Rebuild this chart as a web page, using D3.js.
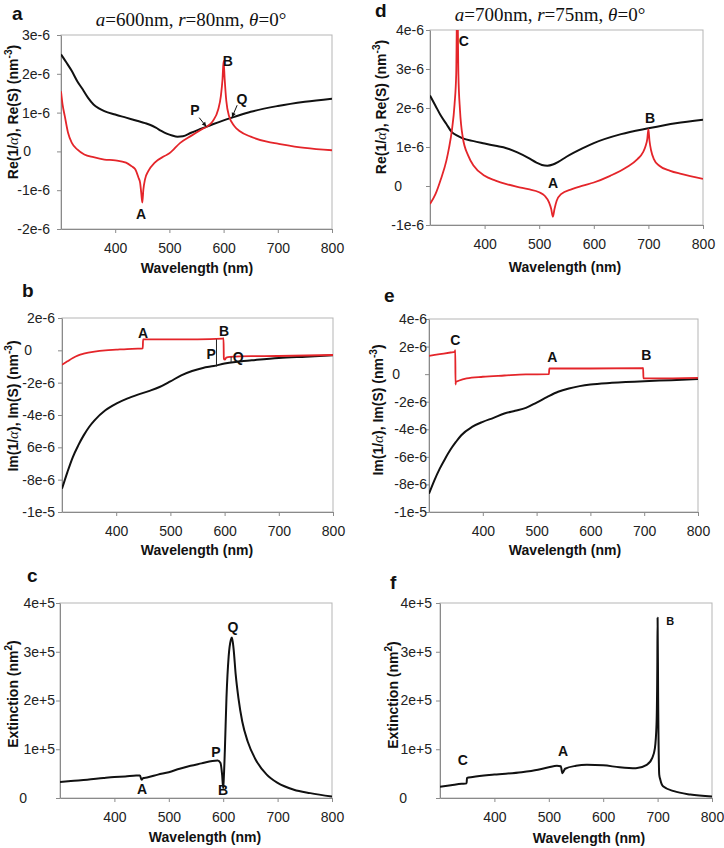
<!DOCTYPE html>
<html><head><meta charset="utf-8">
<script src="https://cdn.jsdelivr.net/npm/d3@7"></script>
<style>body{margin:0;background:#fff}svg{display:block}</style>
</head><body>
<svg id="fig" width="724" height="848"></svg>
<script>
// ---------------- DATA (values in units of 1e-6 nm^-3, extinction in 1e5 nm^2) ----------------
const xTicks = [400, 500, 600, 700, 800];

// Panel a : a=600nm, r=80nm
const aBlackX = [300,310,320,330,340,350,360,370,380,400,420,440,455,465,475,485,495,505,515,525,540,560,580,600,620,650,700,750,800];
const aBlackY = [2.5,2.29,2.07,1.81,1.6,1.38,1.21,1.11,1.04,0.95,0.87,0.79,0.73,0.68,0.61,0.53,0.46,0.41,0.38,0.39,0.48,0.59,0.70,0.80,0.89,1.02,1.17,1.28,1.36];
const aRedX = [300,303,307,313,320,330,343,360,380,400,420,430,437,443,446,448,450,452,455,461,473,491,500,520,540,560,570,580,590,595,598,600,602,605,610,620,630,650,680,700,750,800];
const aRedY = [1.55,1.2,0.91,0.48,0.22,0.05,-0.08,-0.15,-0.21,-0.23,-0.29,-0.38,-0.46,-0.68,-0.81,-1.06,-1.32,-0.98,-0.72,-0.51,-0.29,-0.12,-0.05,0.22,0.40,0.57,0.65,0.78,1.08,1.43,1.86,2.33,1.86,1.30,0.91,0.65,0.52,0.38,0.25,0.20,0.09,0.03];
const aTicksY = [-2,-1,0,1,2,3];
const aTickLabels = ["-2e-6","-1e-6","0","1e-6","2e-6","3e-6"];

// Panel d : a=700nm, r=75nm
const dBlackX = [300,310,320,330,340,350,360,380,400,420,440,460,480,495,505,515,525,535,550,580,600,650,700,750,800];
const dBlackY = [2.32,2.06,1.80,1.59,1.38,1.29,1.22,1.15,1.09,1.03,0.97,0.86,0.72,0.60,0.54,0.52,0.55,0.62,0.75,0.97,1.10,1.33,1.48,1.61,1.70];
const dRedX = [300,310,320,330,335,340,345,348,350,352,355,360,370,380,400,420,440,460,480,500,510,518,522,525,528,532,540,560,580,600,630,660,680,690,695,698,700,702,705,710,720,740,760,800];
const dRedY = [-0.46,-0.21,0.18,0.65,0.99,1.42,2.10,2.87,5.0,2.87,1.93,1.25,0.78,0.52,0.26,0.14,0.05,-0.02,-0.08,-0.16,-0.25,-0.42,-0.59,-0.79,-0.59,-0.38,-0.21,-0.08,0.01,0.09,0.26,0.48,0.69,0.86,1.03,1.21,1.46,1.16,0.91,0.69,0.52,0.39,0.31,0.18];
const dTicksY = [-1,0,1,2,3,4];
const dTickLabels = ["-1e-6","0","1e-6","2e-6","3e-6","4e-6"];

// Panel b : Im parts, a=600nm
const bBlackX = [300,310,320,330,340,350,360,380,400,420,440,460,480,500,520,540,560,580,600,620,650,700,750,800];
const bBlackY = [-8.56,-7.53,-6.60,-5.88,-5.26,-4.74,-4.33,-3.71,-3.30,-2.99,-2.74,-2.52,-2.27,-1.92,-1.55,-1.28,-1.09,-0.97,-0.82,-0.72,-0.62,-0.47,-0.39,-0.31];
const bRedX = [300,310,320,330,340,360,380,400,420,440,449,449.6,500,550,596,598,598.6,600.5,603,610,650,700,800];
const bRedY = [-0.89,-0.68,-0.47,-0.31,-0.21,-0.08,0,0.04,0.08,0.10,0.12,0.68,0.68,0.68,0.72,0.76,-0.52,-0.58,-0.45,-0.40,-0.36,-0.35,-0.29];
const bTicksY = [-10,-8,-6,-4,-2,0,2];
const bTickLabels = ["-1e-5","-8e-6","6e-6","-4e-6","-2e-6","0","2e-6"];
const bMarkX = [585, 612];       // P, Q difference markers
const bMarkTop = [0.68, -0.40];
const bMarkBot = [-1.0, -0.75];

// Panel e : Im parts, a=700nm
const eBlackX = [300,310,320,330,340,350,360,380,400,420,440,460,480,500,520,540,560,580,600,640,700,750,800];
const eBlackY = [-8.67,-7.70,-6.85,-6.13,-5.47,-4.92,-4.43,-3.83,-3.46,-3.17,-2.86,-2.66,-2.45,-2.06,-1.65,-1.28,-1.04,-0.87,-0.75,-0.63,-0.51,-0.44,-0.36];
const eRedX = [300,320,340,348,348.8,349.3,350,355,370,400,440,480,523,523.6,525,600,697,698,698.6,700,720,800];
const eRedY = [1.33,1.45,1.57,1.62,1.74,-0.75,-0.56,-0.48,-0.31,-0.19,-0.10,-0.02,0.0,0.41,0.41,0.41,0.44,0.46,-0.31,-0.31,-0.31,-0.27];
const eTicksY = [-10,-8,-6,-4,-2,0,2,4];
const eTickLabels = ["-1e-5","-8e-6","-6e-6","-4e-6","-2e-6","0","2e-6","4e-6"];

// Panel c : Extinction, a=600nm
const cX = [300,320,350,380,400,420,440,447,450,453,460,480,500,520,540,560,580,590,595,598,600,601,603,606,610,614,616,619,623,628,635,645,660,680,700,730,760,800];
const cY = [0.33,0.35,0.375,0.41,0.43,0.44,0.46,0.46,0.375,0.41,0.42,0.48,0.53,0.60,0.66,0.71,0.76,0.77,0.72,0.48,0.20,0.38,0.96,2.05,2.90,3.24,3.29,3.07,2.53,2.05,1.57,1.16,0.78,0.48,0.31,0.17,0.10,0.03];
const extTicksY = [0,1,2,3,4];
const extTickLabels = ["0","1e+5","2e+5","3e+5","4e+5"];

// Panel f : Extinction, a=700nm
const fX = [300,320,340,349,349.5,360,400,450,480,500,515,522,525,530,550,570,600,630,660,680,690,695,698,699.5,700,701,703,705,710,730,760,800];
const fY = [0.23,0.26,0.29,0.30,0.41,0.43,0.48,0.53,0.58,0.63,0.66,0.65,0.51,0.60,0.66,0.68,0.67,0.63,0.61,0.68,0.82,1.02,1.50,2.73,3.70,2.05,0.48,0.375,0.24,0.14,0.07,0.03];

// ---------------- DRAWING ----------------
const svg = d3.select("#fig");
const SANS = "'Liberation Sans', Arial, Helvetica, sans-serif";
const SERIF = "'Liberation Serif', 'Times New Roman', serif";
const RED = "#e4252a", BLACK = "#111";
const defs = svg.append("defs");
let clipId = 0;

function panel(c) {
  const x = d3.scaleLinear().domain([300, 800]).range([c.left, c.right]);
  const y = d3.scaleLinear().domain(c.yDomain).range([c.bottom, c.top]);
  const g = svg.append("g");
  const id = "clip" + (clipId++);
  defs.append("clipPath").attr("id", id).append("rect")
    .attr("x", c.left).attr("y", c.top).attr("width", c.right - c.left).attr("height", c.bottom - c.top);

  // frame
  g.append("rect").attr("x", c.left).attr("y", c.top).attr("width", c.right - c.left).attr("height", c.bottom - c.top)
    .attr("fill", "none").attr("stroke", "#b5b5b5").attr("stroke-width", 1);

  // x axis
  const xa = g.append("g").attr("transform", `translate(0,${c.bottom})`)
    .call(d3.axisBottom(x).tickValues(xTicks).tickSize(4).tickPadding(10).tickSizeOuter(0));
  xa.select(".domain").attr("stroke", "#8a8a8a");
  xa.selectAll(".tick line").attr("stroke", "#8a8a8a");
  xa.selectAll(".tick text").attr("font-family", SANS).attr("font-size", 14).attr("fill", "#222");

  // y axis
  const ya = g.append("g").attr("transform", `translate(${c.left},0)`)
    .call(d3.axisLeft(y).tickValues(c.yTicks).tickSize(4).tickSizeOuter(0)
      .tickFormat((d, i) => c.yLabels[i]));
  ya.select(".domain").attr("stroke", "#8a8a8a");
  ya.selectAll(".tick line").attr("stroke", "#8a8a8a");
  ya.selectAll(".tick text").attr("font-family", SANS).attr("font-size", 14).attr("fill", "#222")
    .attr("x", -(c.left - c.labelRight))
    .attr("dx", d => d === 0 ? c.zeroDx : 0);

  // lines
  const line = d3.line().x(d => x(d[0])).y(d => y(d[1])).curve(d3.curveMonotoneX);
  const plot = g.append("g").attr("clip-path", `url(#${id})`);
  c.series.forEach(s => {
    const pts = s.x.map((v, i) => [v, s.y[i]]);
    plot.append("path").datum(pts).attr("d", line).attr("fill", "none")
      .attr("stroke", s.color).attr("stroke-width", s.w).attr("stroke-linejoin", "round");
  });

  // vertical markers
  (c.marks || []).forEach(m => {
    m.x.forEach((v, i) => {
      plot.append("line").attr("x1", x(v)).attr("x2", x(v)).attr("y1", y(m.top[i])).attr("y2", y(m.bot[i]))
        .attr("stroke", "#222").attr("stroke-width", 1);
    });
  });

  // arrows
  (c.arrows || []).forEach(a => {
    const x1 = x(a[0]), y1 = y(a[1]), x2 = x(a[2]), y2 = y(a[3]);
    g.append("line").attr("x1", x1).attr("y1", y1).attr("x2", x2).attr("y2", y2)
      .attr("stroke", "#111").attr("stroke-width", 1);
    const ang = Math.atan2(y2 - y1, x2 - x1), L = 5, W = 0.45;
    const p = [[x2, y2], [x2 - L * Math.cos(ang - W), y2 - L * Math.sin(ang - W)], [x2 - L * Math.cos(ang + W), y2 - L * Math.sin(ang + W)]];
    g.append("path").attr("d", "M" + p.map(q => q.join(",")).join("L") + "Z").attr("fill", "#111");
  });

  // point labels
  c.labels.forEach(l => {
    g.append("text").attr("x", x(l[1])).attr("y", y(l[2])).attr("dy", "0.36em")
      .attr("text-anchor", "middle").attr("font-family", SANS).attr("font-weight", "bold")
      .attr("font-size", l[3] || 14).attr("fill", "#111").text(l[0]);
  });

  // panel letter
  svg.append("text").attr("x", c.letter[1]).attr("y", c.letter[2]).attr("font-family", SANS)
    .attr("font-weight", "bold").attr("font-size", 19).attr("fill", "#111").text(c.letter[0]);

  // x label
  svg.append("text").attr("x", c.xlab[0]).attr("y", c.xlab[1]).attr("text-anchor", "middle")
    .attr("font-family", SANS).attr("font-weight", "bold").attr("font-size", 14).attr("fill", "#111")
    .text("Wavelength (nm)");

  // y label
  const yl = svg.append("text").attr("transform", `translate(${c.ylab[0]},${c.ylab[1]}) rotate(-90)`)
    .attr("text-anchor", "middle").attr("font-family", SANS).attr("font-weight", "bold")
    .attr("font-size", 14).attr("fill", "#111");
  c.ylabParts.forEach(p => {
    const t = yl.append("tspan").text(p.t);
    if (p.sup) t.attr("font-size", 10).attr("dy", -6);
    if (p.after) t.attr("dy", 6);
    if (p.it) t.attr("font-style", "italic").attr("font-weight", "normal").attr("font-family", SERIF).attr("font-size", 15);
  });

  if (c.title) {
    const tt = svg.append("text").attr("x", c.title.x).attr("y", c.title.y).attr("text-anchor", "middle")
      .attr("font-family", SERIF).attr("font-size", 19).attr("fill", "#111");
    c.title.parts.forEach(p => {
      const s = tt.append("tspan").text(p[0]);
      if (p[1]) s.attr("font-style", "italic");
    });
  }
}

const reParts = [{t:"Re(1/"},{t:"α", it:true},{t:"), Re(S) (nm"},{t:"-3", sup:true},{t:")", after:true}];
const imParts = [{t:"Im(1/"},{t:"α", it:true},{t:"), Im(S) (nm"},{t:"-3", sup:true},{t:")", after:true}];
const extParts = [{t:"Extinction (nm"},{t:"2", sup:true},{t:")", after:true}];

panel({ left:61, right:332, top:35, bottom:229, yDomain:[-2,3], yTicks:aTicksY, yLabels:aTickLabels,
  labelRight:50, zeroDx:-19,
  series:[{x:aBlackX, y:aBlackY, color:BLACK, w:2},{x:aRedX, y:aRedY, color:RED, w:1.8}],
  labels:[["A",447.6,-1.62],["B",608,2.32],["P",547,1.08],["Q",634,1.34]],
  arrows:[[555,0.87,568,0.64],[625,1.19,615.5,0.88]],
  letter:["a",12,20], xlab:[197,273], ylab:[18,112], ylabParts:reParts,
  title:{x:191, y:26, parts:[["a",1],["=600nm, "],["r",1],["=80nm, "],["θ",1],["=0°"]]} });

panel({ left:430, right:703, top:30, bottom:225, yDomain:[-1,4], yTicks:dTicksY, yLabels:dTickLabels,
  labelRight:424, zeroDx:-22,
  series:[{x:dBlackX, y:dBlackY, color:BLACK, w:2},{x:dRedX, y:dRedY, color:RED, w:1.8}],
  labels:[["C",362,3.72],["A",525.5,0.08],["B",703,1.74]],
  letter:["d",375,17], xlab:[565,272], ylab:[386,107], ylabParts:reParts,
  title:{x:550, y:21, parts:[["a",1],["=700nm, "],["r",1],["=75nm, "],["θ",1],["=0°"]]} });

panel({ left:62, right:333, top:318, bottom:512, yDomain:[-10,2], yTicks:bTicksY, yLabels:bTickLabels,
  labelRight:55, zeroDx:-23,
  series:[{x:bBlackX, y:bBlackY, color:BLACK, w:2},{x:bRedX, y:bRedY, color:RED, w:1.8}],
  marks:[{x:bMarkX, top:bMarkTop, bot:bMarkBot}],
  labels:[["A",449.4,1.08],["B",599,1.2],["P",575,-0.2],["Q",625,-0.4]],
  letter:["b",22,297], xlab:[197,555], ylab:[18,406], ylabParts:imParts });

panel({ left:429, right:698, top:319, bottom:512, yDomain:[-10,4], yTicks:eTicksY, yLabels:eTickLabels,
  labelRight:427, zeroDx:-27,
  series:[{x:eBlackX, y:eBlackY, color:BLACK, w:2},{x:eRedX, y:eRedY, color:RED, w:1.8}],
  labels:[["C",349,2.46],["A",529,1.23],["B",704,1.38]],
  letter:["e",384,302], xlab:[565,555], ylab:[383,410], ylabParts:imParts });

panel({ left:60, right:332, top:603, bottom:798, yDomain:[0,4], yTicks:extTicksY, yLabels:extTickLabels,
  labelRight:55, zeroDx:-28,
  series:[{x:cX, y:cY, color:BLACK, w:2}],
  labels:[["A",450.7,0.18],["B",599.6,0.16],["P",586.8,0.94],["Q",618,3.51]],
  letter:["c",27,582], xlab:[205,842], ylab:[18,694], ylabParts:extParts });

panel({ left:440, right:712, top:603, bottom:798, yDomain:[0,4], yTicks:extTicksY, yLabels:extTickLabels,
  labelRight:432, zeroDx:-25,
  series:[{x:fX, y:fY, color:BLACK, w:2}],
  labels:[["C",342,0.78],["A",526,0.96],["B",723,3.63,11]],
  letter:["f",390,589], xlab:[589,843], ylab:[398,695], ylabParts:extParts });
</script>
</body></html>
